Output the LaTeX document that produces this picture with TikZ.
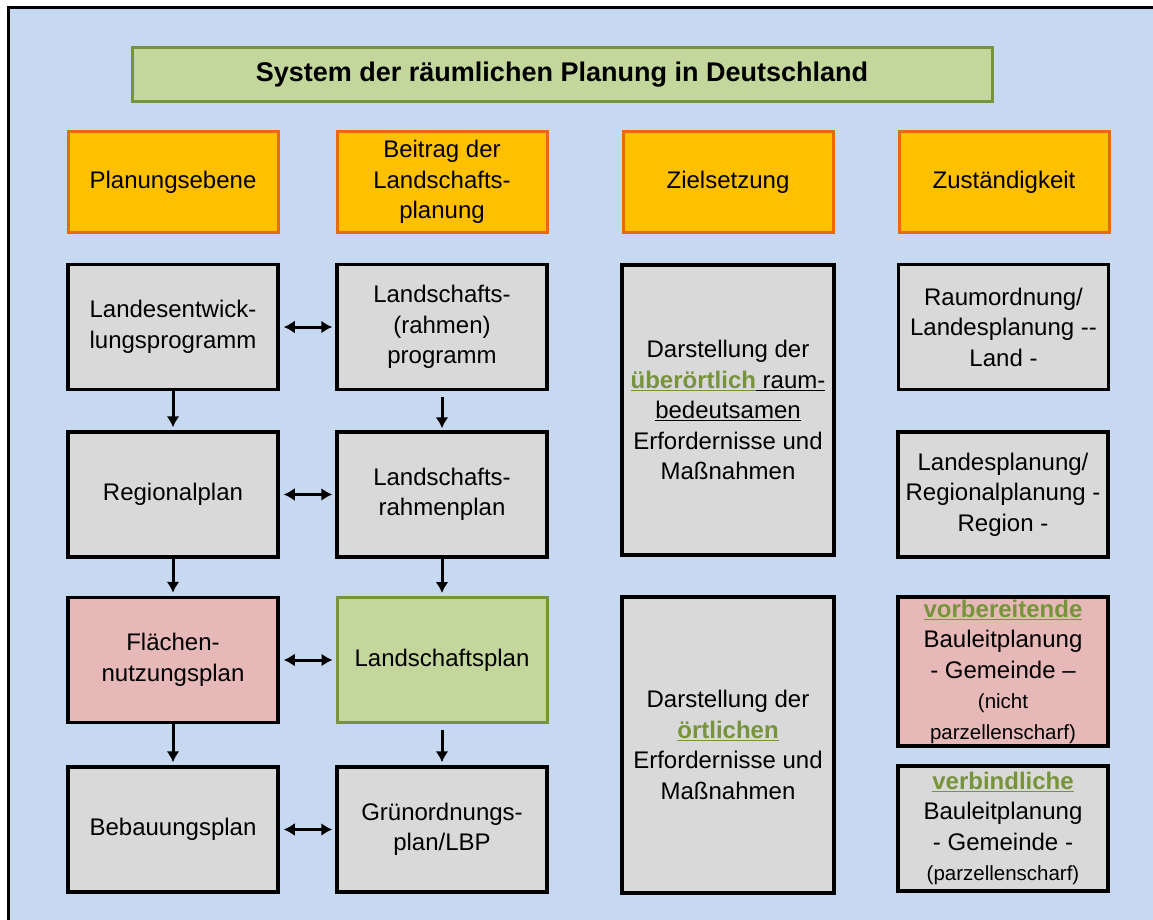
\documentclass[tikz,border=0pt]{standalone}
\usepackage{fontspec}
\setmainfont{Liberation Sans}
\usetikzlibrary{arrows.meta}
\definecolor{bgblue}{HTML}{C6D9F1}
\definecolor{boxgray}{HTML}{D9D9D9}
\definecolor{headorange}{HTML}{FFC000}
\definecolor{headline}{HTML}{E46C0A}
\definecolor{lightgreen}{HTML}{C3D69B}
\definecolor{darkgreen}{HTML}{77933C}
\definecolor{lightred}{HTML}{E6B9B8}
\newcommand{\smalltext}[1]{{\fontsize{20.5}{28}\selectfont #1}}
\newcommand{\greenword}[1]{\textcolor{darkgreen}{\underline{\textbf{#1}}}}

\begin{document}
\begin{tikzpicture}
[every node/.style={inner sep=0pt, align=center, font=\fontsize{24}{30.5}\selectfont},
 graybox/.style={rectangle, minimum width=210pt, minimum height=125pt, fill=boxgray, line width=3.5pt, draw=black},
 headbox/.style={rectangle, minimum width=210pt, minimum height=100pt, fill=headorange, line width=3pt, draw=headline},
 titlebox/.style={rectangle, minimum width=860pt, minimum height=54pt, fill=lightgreen, line width=3pt, draw=darkgreen, font=\fontsize{27}{30}\selectfont\bfseries},
 arrow/.style={line width=3pt, -{Latex[length=11pt, width=13pt]}},
 twoway/.style={line width=3pt, {Latex[length=11pt, width=13pt]}-{Latex[length=11pt, width=13pt]}, shorten <=4pt, shorten >=3pt}]
\useasboundingbox (0pt, 0pt) rectangle (1153pt, -920pt);
\draw [fill=bgblue, line width=3pt, draw=black] (8pt, -8pt) rectangle (1175pt, -940pt);
\node (0) [titlebox] at (562pt, -75pt) {System der räumlichen Planung in Deutschland};
\node (1) [headbox] at (173pt, -182pt) {Planungsebene};
\node (2) [headbox] at (442pt, -182pt) {Beitrag der\\Landschafts-\\planung};
\node (3) [headbox] at (728pt, -182pt) {Zielsetzung};
\node (4) [headbox] at (1004pt, -182pt) {Zuständigkeit};
\node (5) [graybox] at (173pt, -327pt) {Landesentwick-\\lungsprogramm};
\node (6) [graybox] at (442pt, -327pt) {Landschafts-\\(rahmen)\\programm};
\node (7) [graybox] at (173pt, -494.5pt) {Regionalplan};
\node (8) [graybox] at (442pt, -494.5pt) {Landschafts-\\rahmenplan};
\node (9) [graybox, fill=lightred] at (173pt, -660pt) {Flächen-\\nutzungsplan};
\node (10) [graybox, fill=lightgreen, draw=darkgreen, line width=3pt] at (442pt, -660pt) {Landschaftsplan};
\node (11) [graybox] at (173pt, -829.5pt) {Bebauungsplan};
\node (12) [graybox] at (442pt, -829.5pt) {Grünordnungs-\\plan/LBP};
\node (13) [graybox, minimum width=212pt, minimum height=290pt] at (728pt, -410pt) {Darstellung der\\\greenword{überörtlich}\underline{\ raum-}\\\underline{bedeutsamen}\\Erfordernisse und\\Maßnahmen};
\node (14) [graybox, minimum width=212pt, minimum height=296pt] at (728pt, -745pt) {Darstellung der\\\greenword{örtlichen}\\Erfordernisse und\\Maßnahmen};
\node (15) [graybox] at (1003.5pt, -327pt) {Raumordnung/\\Landesplanung -{}-\\Land -};
\node (16) [graybox] at (1003pt, -494.5pt) {Landesplanung/\\Regionalplanung -\\Region -};
\node (17) [graybox, fill=lightred, minimum height=149pt] at (1003pt, -671.5pt) {\greenword{vorbereitende}\\Bauleitplanung\\- Gemeinde –\\\smalltext{(nicht}\\\smalltext{parzellenscharf)}};
\node (18) [graybox] at (1003pt, -828.5pt) {\greenword{verbindliche}\\Bauleitplanung\\- Gemeinde -\\\smalltext{(parzellenscharf)}};
\draw [arrow, shorten >=3pt] (5) to (7);
\draw [arrow, shorten >=3pt] (7) to (9);
\draw [arrow, shorten >=3pt] (9) to (11);
\draw [arrow, shorten <=6pt, shorten >=2pt] (6) to (8);
\draw [arrow, shorten >=3pt] (8) to (10);
\draw [arrow, shorten <=6pt, shorten >=3pt] (10) to (12);
\draw [twoway] (5) to (6);
\draw [twoway] (7) to (8);
\draw [twoway] (9) to (10);
\draw [twoway] (11) to (12);
\end{tikzpicture}
\end{document}
